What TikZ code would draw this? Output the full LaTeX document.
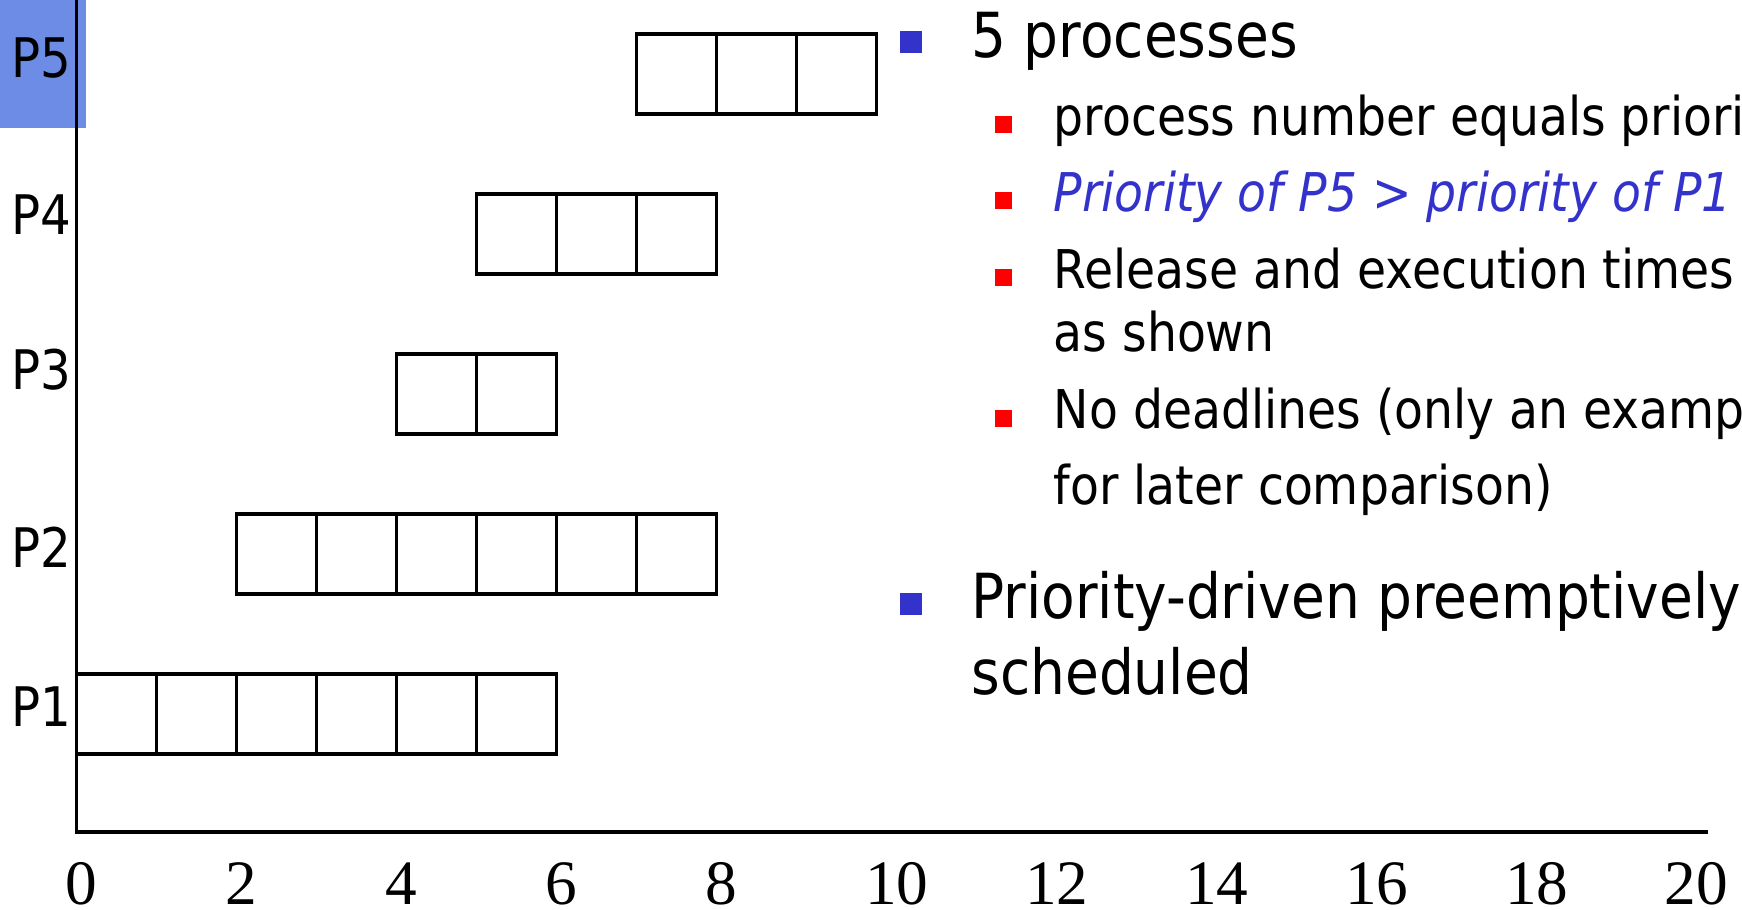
\documentclass[tikz,border=0pt]{standalone}
\usepackage{fontspec}
\setmainfont{DejaVu Sans}[FakeStretch=0.885]
\newfontfamily\numfont{Liberation Serif}
\definecolor{bulletblue}{RGB}{51,51,204}
\definecolor{tagblue}{RGB}{108,140,230}
\begin{document}
\begin{tikzpicture}[x=1cm,y=1cm,
  axis/.style={line width=1.3pt},
  slot/.style={draw, line width=1.3pt, minimum width=1cm, minimum height=1cm,
    inner sep=0pt, outer sep=0pt},
  plabel/.style={anchor=base, inner sep=0pt, font=\fontsize{19.4}{23}\selectfont},
  ticklabel/.style={anchor=base west, inner sep=0pt,
    font=\numfont\fontsize{22.5}{26}\selectfont},
  mainitem/.style={anchor=base west, inner sep=0pt, font=\fontsize{22.1}{26}\selectfont},
  subitem/.style={anchor=base west, inner sep=0pt, font=\fontsize{19}{23}\selectfont},
  bigbullet/.style={fill=bulletblue, minimum size=0.275cm, inner sep=0pt},
  smallbullet/.style={fill=red, minimum size=0.21cm, inner sep=0pt}]

\useasboundingbox (-0.958,-0.972) rectangle (20.82,10.403);
\clip (-0.958,-0.972) rectangle (20.82,10.403);

% highlighted row tag
\fill[tagblue] (-0.958,8.80) rectangle (0.117,10.403);

% axes
\coordinate (origin) at (0,0);
\coordinate (ytop) at (0,10.403);
\coordinate (xend) at (20.39,0);
\draw[axis] (ytop) -- (origin) -- (xend);

% time labels
\foreach \t in {0,2,...,20}
  \node[ticklabel] (t\t) at (\t-0.15,-0.90) {\t};

% process labels
\node[plabel] (lab1) at (-0.44,1.32) {P1};
\node[plabel] (lab2) at (-0.44,3.31) {P2};
\node[plabel] (lab3) at (-0.44,5.53) {P3};
\node[plabel] (lab4) at (-0.44,7.47) {P4};
\node[plabel] (lab5) at (-0.44,9.44) {P5};

% execution slots: process / row height / first slot / last slot
\foreach \p/\y/\a/\b in {1/1.475/0/5, 2/3.475/2/7, 3/5.475/4/5, 4/7.475/5/7, 5/9.475/7/9}
  \foreach \s in {\a,...,\b}
    \node[slot] (p\p s\s) at (\s+0.5,\y) {};

% bullet list
\node[bigbullet] (b1) at (10.43,9.875) {};
\node[mainitem] (t1) at (11.18,9.69) {5 processes};

\node[smallbullet] (r1) at (11.59,8.85) {};
\node[subitem] (s1) at (12.21,8.715) {process number equals priority};

\node[smallbullet] (r2) at (11.59,7.90) {};
\node[subitem, text=bulletblue] (s2) at (12.21,7.76) {\itshape Priority of P5 > priority of P1};

\node[smallbullet] (r3) at (11.59,6.93) {};
\node[subitem] (s3) at (12.21,6.80) {Release and execution times};
\node[subitem] (s3b) at (12.21,6.01) {as shown};

\node[smallbullet] (r4) at (11.59,5.17) {};
\node[subitem] (s4) at (12.21,5.04) {No deadlines (only an example};
\node[subitem] (s4b) at (12.21,4.10) {for later comparison)};

\node[bigbullet] (b2) at (10.43,2.85) {};
\node[mainitem] (t2) at (11.18,2.67) {Priority-driven preemptively};
\node[mainitem] (t2b) at (11.18,1.715) {scheduled};
\end{tikzpicture}
\end{document}
